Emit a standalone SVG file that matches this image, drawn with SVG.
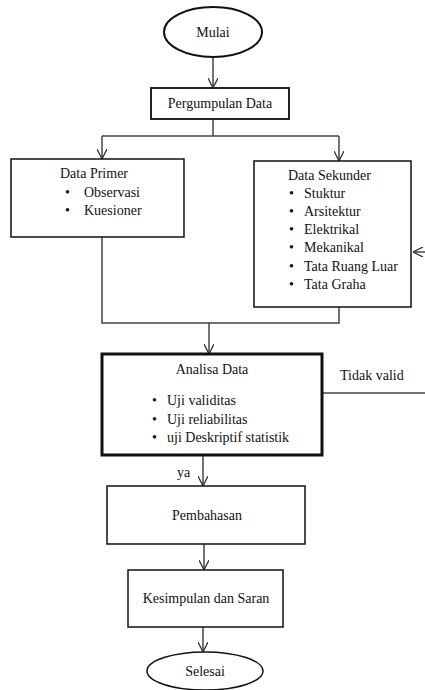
<svg xmlns="http://www.w3.org/2000/svg" width="425" height="690" viewBox="0 0 425 690" font-family="'Liberation Serif', 'DejaVu Serif', serif" font-size="14">
<defs>
<marker id="arr" viewBox="0 0 10 10" refX="10" refY="5" markerWidth="10" markerHeight="10" markerUnits="userSpaceOnUse" orient="auto">
<path d="M0,0 L10,5 L0,10" fill="none" stroke="#333" stroke-width="1.3"/>
</marker>
</defs>
<style>
text{fill:#111}
.c{text-anchor:middle}
.box{fill:#fff;stroke:#111;stroke-width:1.5}
.con{fill:none;stroke:#444;stroke-width:1.5}
</style>
<rect width="425" height="690" fill="#fff"/>
<g id="connectors">
<line class="con" x1="213" y1="58" x2="213" y2="88" marker-end="url(#arr)"/>
<polyline class="con" points="213,119 213,136"/>
<polyline class="con" points="102,136 339,136"/>
<line class="con" x1="102" y1="136" x2="102" y2="159" marker-end="url(#arr)"/>
<line class="con" x1="339" y1="136" x2="339" y2="161" marker-end="url(#arr)"/>
<polyline class="con" points="102,237 102,323 339,323 339,307"/>
<line class="con" x1="209" y1="323" x2="209" y2="354" marker-end="url(#arr)"/>
<line class="con" x1="203" y1="455" x2="203" y2="486" marker-end="url(#arr)"/>
<line class="con" x1="204" y1="544" x2="204" y2="570" marker-end="url(#arr)"/>
<line class="con" x1="203" y1="627" x2="203" y2="652" marker-end="url(#arr)"/>
<line class="con" x1="322" y1="393" x2="425" y2="393" stroke="#666" stroke-width="2"/>
<line class="con" x1="425" y1="252" x2="413" y2="252" stroke="#777" marker-end="url(#arr)"/>
<text x="340" y="380">Tidak valid</text>
<text x="177" y="477">ya</text>
</g>
<g id="mulai">
<ellipse cx="213" cy="32" rx="49" ry="25" fill="#fff" stroke="#111" stroke-width="2"/>
<text class="c" x="213" y="37">Mulai</text>
</g>
<g id="pengumpulan">
<rect x="151" y="88" width="138" height="31" fill="#fff" stroke="#222" stroke-width="2"/>
<text class="c" x="220" y="108">Pergumpulan Data</text>
</g>
<g id="data-primer">
<rect class="box" x="11" y="159" width="173" height="78"/>
<text class="c" x="94" y="178">Data Primer</text>
<text x="65" y="197">•</text><text x="84" y="197">Observasi</text>
<text x="65" y="215">•</text><text x="84" y="215">Kuesioner</text>
</g>
<g id="data-sekunder">
<rect class="box" x="254" y="161" width="157" height="146"/>
<text x="288" y="180">Data Sekunder</text>
<text x="289" y="198">•</text><text x="304" y="198">Stuktur</text>
<text x="289" y="216">•</text><text x="304" y="216">Arsitektur</text>
<text x="289" y="234">•</text><text x="304" y="234">Elektrikal</text>
<text x="289" y="252">•</text><text x="304" y="252">Mekanikal</text>
<text x="289" y="271">•</text><text x="304" y="271">Tata Ruang Luar</text>
<text x="289" y="289">•</text><text x="304" y="289">Tata Graha</text>
</g>
<g id="analisa-data">
<rect x="102" y="354" width="220" height="101" fill="#fff" stroke="#111" stroke-width="3"/>
<text class="c" x="212" y="374">Analisa Data</text>
<text x="152" y="405">•</text><text x="167" y="405">Uji validitas</text>
<text x="152" y="424">•</text><text x="167" y="424">Uji reliabilitas</text>
<text x="152" y="442">•</text><text x="167" y="442">uji Deskriptif statistik</text>
</g>
<g id="pembahasan">
<rect class="box" x="107" y="486" width="198" height="58"/>
<text class="c" x="207" y="520">Pembahasan</text>
</g>
<g id="kesimpulan">
<rect class="box" x="128" y="570" width="155" height="57"/>
<text class="c" x="206" y="603">Kesimpulan dan Saran</text>
</g>
<g id="selesai">
<ellipse cx="205" cy="671" rx="58" ry="19" fill="#fff" stroke="#111" stroke-width="1.5"/>
<text class="c" x="205" y="676">Selesai</text>
</g>
</svg>
